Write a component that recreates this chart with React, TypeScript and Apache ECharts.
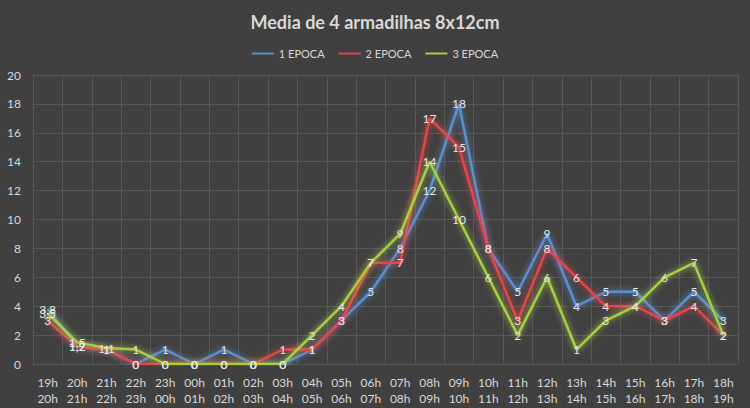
import React, { useEffect, useRef } from "react";
import * as echarts from "echarts";

const categories = [
  "19h\n20h", "20h\n21h", "21h\n22h", "22h\n23h", "23h\n00h", "00h\n01h",
  "01h\n02h", "02h\n03h", "03h\n04h", "04h\n05h", "05h\n06h", "06h\n07h",
  "07h\n08h", "08h\n09h", "09h\n10h", "10h\n11h", "11h\n12h", "12h\n13h",
  "13h\n14h", "14h\n15h", "15h\n16h", "16h\n17h", "17h\n18h", "18h\n19h",
];
const epoca1 = [3.8, 1.2, 1, 0, 1, 0, 1, 0, 0, 1, 3, 5, 8, 12, 18, 8, 5, 9, 4, 5, 5, 3, 5, 3];
const epoca2 = [3, 1.2, 1, 0, 0, 0, 0, 0, 1, 1, 3, 7, 7, 17, 15, 8, 3, 8, 6, 4, 4, 3, 4, 2];
const epoca3 = [3.5, 1.5, 1.1, 1, 0, 0, 0, 0, 0, 2, 4, 7, 9, 14, 10, 6, 2, 6, 1, 3, 4, 6, 7, 2];
const seriesNames = ["1 EPOCA", "2 EPOCA", "3 EPOCA"];
const colors = ["#5b8fd0", "#e0474c", "#a6cf45"];

const fmt = (v: number) => String(v).replace(".", ",");

export default function App() {
  const ref = useRef<HTMLDivElement>(null);
  useEffect(() => {
    document.body.style.margin = "0";
    const chart = echarts.init(ref.current!, null, { renderer: "svg" });
    const datasets = [epoca1, epoca2, epoca3];
    chart.setOption({
      animation: false,
      backgroundColor: "#404040",
      textStyle: { fontFamily: "Lato" },
      title: {
        text: "Media de 4 armadilhas 8x12cm",
        left: "center",
        top: 8,
        textStyle: { color: "#d9d9d9", fontSize: 18, fontWeight: "bold", fontFamily: "Lato" },
      },
      legend: {
        top: 43,
        left: "center",
        itemWidth: 22,
        itemHeight: 2,
        itemGap: 14,
        icon: "rect",
        textStyle: { color: "#d9d9d9", fontSize: 11, fontFamily: "Lato" },
        data: seriesNames,
      },
      grid: { left: 33, right: 12, top: 75, bottom: 44 },
      xAxis: {
        type: "category",
        data: categories,
        boundaryGap: true,
        axisLine: { show: false },
        axisTick: { show: false },
        axisLabel: { color: "#d9d9d9", fontSize: 12, lineHeight: 16, margin: 10, interval: 0 },
        splitLine: { show: true, interval: 0, lineStyle: { color: "#575757", width: 1 } },
      },
      yAxis: {
        type: "value",
        min: 0,
        max: 20,
        interval: 2,
        axisLine: { show: false },
        axisTick: { show: false },
        axisLabel: { color: "#d9d9d9", fontSize: 12, margin: 12 },
        splitLine: { lineStyle: { color: "#575757", width: 1 } },
      },
      series: datasets.map((d, i) => ({
        name: seriesNames[i],
        type: "line",
        data: d,
        color: colors[i],
        symbol: "circle",
        symbolSize: 0,
        lineStyle: { width: 2.5, color: colors[i], shadowColor: colors[i], shadowBlur: 6 },
        label: {
          show: true,
          position: "inside",
          color: "#e6e6e6",
          fontSize: 12,
          formatter: (p: any) => fmt(p.value),
        },
      })),
    });
    return () => chart.dispose();
  }, []);
  return <div ref={ref} style={{ width: 750, height: 408 }} />;
}
